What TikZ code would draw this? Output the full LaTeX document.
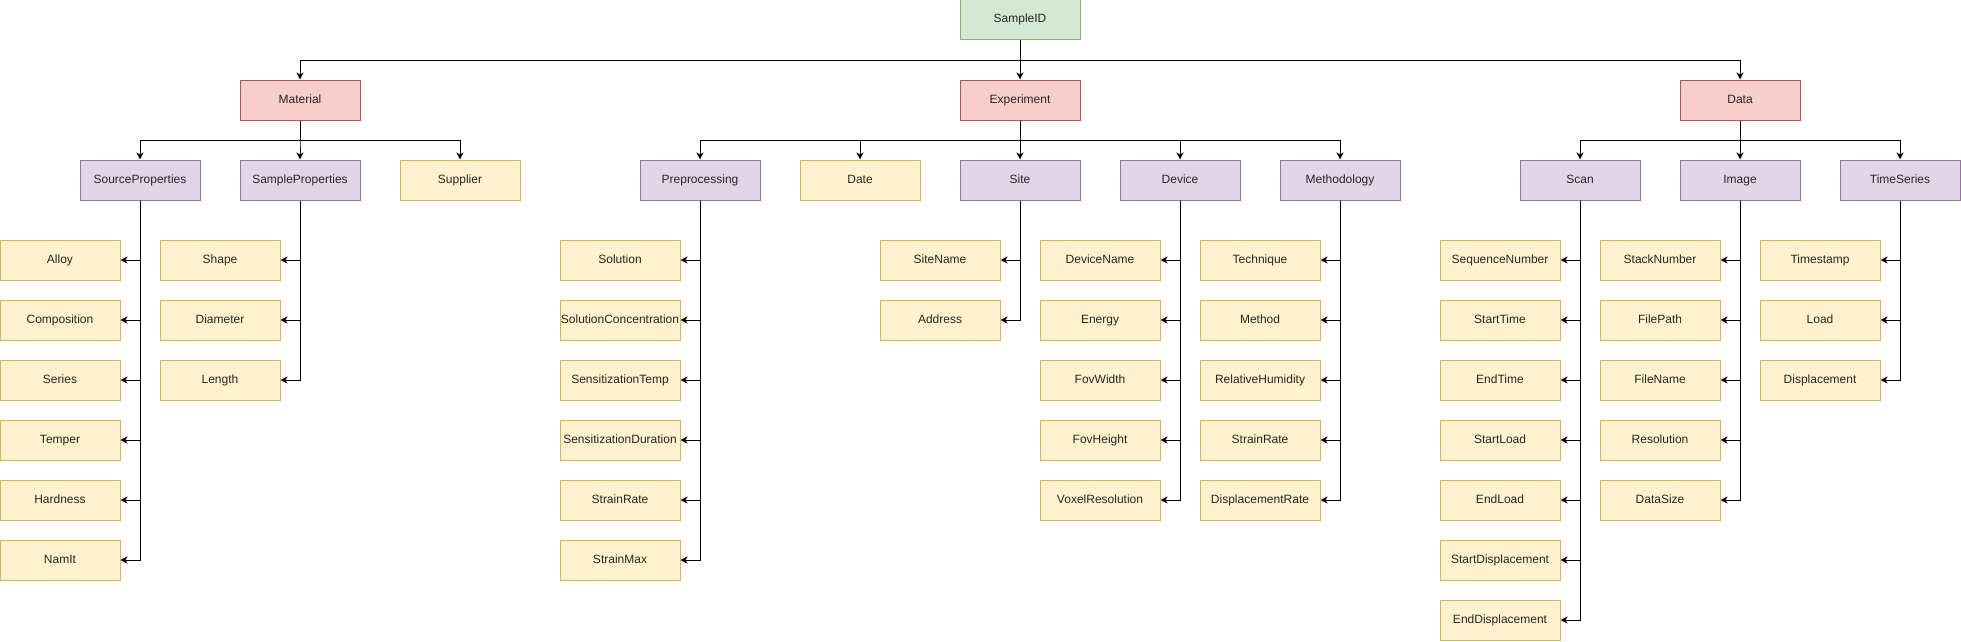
\documentclass[tikz,border=0pt]{standalone}
\usepackage{fontspec}
\setmainfont{Liberation Sans}
\usetikzlibrary{arrows.meta}
\definecolor{gfill}{HTML}{D5E8D4}\definecolor{gdraw}{HTML}{82B366}
\definecolor{rfill}{HTML}{F8CECC}\definecolor{rdraw}{HTML}{B85450}
\definecolor{pfill}{HTML}{E1D5E7}\definecolor{pdraw}{HTML}{9673A6}
\definecolor{yfill}{HTML}{FFF2CC}\definecolor{ydraw}{HTML}{D6B656}
\tikzset{
  box/.style={rectangle, minimum width=120pt, minimum height=40pt, inner sep=0pt, line width=1pt,
    text height=8.6pt, text depth=2.6pt,
    font=\fontsize{12}{14}\selectfont, text=black!85},
  rootbox/.style={box, fill=gfill, draw=gdraw},
  topbox/.style={box, fill=rfill, draw=rdraw},
  midbox/.style={box, fill=pfill, draw=pdraw},
  leaf/.style={box, fill=yfill, draw=ydraw},
  arr/.style={line width=1pt, -{Stealth[length=7pt, width=7pt, inset=2pt]}},
}
\begin{document}
\begin{tikzpicture}[x=1pt, y=-1pt]
\useasboundingbox (0,0) rectangle (1961,642);
% level 0
\node[rootbox] (sid) at (1020,20) {SampleID};
% level 1
\node[topbox] (mat) at (300,100) {Material};
\node[topbox] (exp) at (1020,100) {Experiment};
\node[topbox] (dat) at (1740,100) {Data};
\foreach \c in {mat,exp,dat} \draw[arr] (sid.south) -- ++(0,20) -| (\c.north);
% level 2
\node[midbox] (srcp) at (140,180) {SourceProperties};
\node[midbox] (smpp) at (300,180) {SampleProperties};
\node[leaf] (sup) at (460,180) {Supplier};
\foreach \c in {srcp,smpp,sup} \draw[arr] (mat.south) -- ++(0,20) -| (\c.north);
\node[midbox] (pre) at (700,180) {Preprocessing};
\node[leaf] (date) at (860,180) {Date};
\node[midbox] (site) at (1020,180) {Site};
\node[midbox] (dev) at (1180,180) {Device};
\node[midbox] (meth) at (1340,180) {Methodology};
\foreach \c in {pre,date,site,dev,meth} \draw[arr] (exp.south) -- ++(0,20) -| (\c.north);
\node[midbox] (scan) at (1580,180) {Scan};
\node[midbox] (img) at (1740,180) {Image};
\node[midbox] (ts) at (1900,180) {TimeSeries};
\foreach \c in {scan,img,ts} \draw[arr] (dat.south) -- ++(0,20) -| (\c.north);
% leaves
\foreach \n/\t [count=\i] in {alloy/Alloy, comp/Composition, ser/Series, temp/Temper, hard/Hardness, namit/NamIt}{
  \node[leaf] (\n) at (60,200+60*\i) {\t};
  \draw[arr] (srcp.south) |- (\n.east);}
\foreach \n/\t [count=\i] in {shape/Shape, diam/Diameter, len/Length}{
  \node[leaf] (\n) at (220,200+60*\i) {\t};
  \draw[arr] (smpp.south) |- (\n.east);}
\foreach \n/\t [count=\i] in {sol/Solution, solc/SolutionConcentration, senst/SensitizationTemp, sensd/SensitizationDuration, pstr/StrainRate, pstm/StrainMax}{
  \node[leaf] (\n) at (620,200+60*\i) {\t};
  \draw[arr] (pre.south) |- (\n.east);}
\foreach \n/\t [count=\i] in {sname/SiteName, addr/Address}{
  \node[leaf] (\n) at (940,200+60*\i) {\t};
  \draw[arr] (site.south) |- (\n.east);}
\foreach \n/\t [count=\i] in {dname/DeviceName, energy/Energy, fovw/FovWidth, fovh/FovHeight, voxr/VoxelResolution}{
  \node[leaf] (\n) at (1100,200+60*\i) {\t};
  \draw[arr] (dev.south) |- (\n.east);}
\foreach \n/\t [count=\i] in {tech/Technique, mthd/Method, relh/RelativeHumidity, mstr/StrainRate, disr/DisplacementRate}{
  \node[leaf] (\n) at (1260,200+60*\i) {\t};
  \draw[arr] (meth.south) |- (\n.east);}
\foreach \n/\t [count=\i] in {seqn/SequenceNumber, stt/StartTime, ent/EndTime, stl/StartLoad, enl/EndLoad, std/StartDisplacement, end/EndDisplacement}{
  \node[leaf] (\n) at (1500,200+60*\i) {\t};
  \draw[arr] (scan.south) |- (\n.east);}
\foreach \n/\t [count=\i] in {stk/StackNumber, fpath/FilePath, fname/FileName, res/Resolution, dsize/DataSize}{
  \node[leaf] (\n) at (1660,200+60*\i) {\t};
  \draw[arr] (img.south) |- (\n.east);}
\foreach \n/\t [count=\i] in {tstamp/Timestamp, load/Load, disp/Displacement}{
  \node[leaf] (\n) at (1820,200+60*\i) {\t};
  \draw[arr] (ts.south) |- (\n.east);}
\end{tikzpicture}
\end{document}
